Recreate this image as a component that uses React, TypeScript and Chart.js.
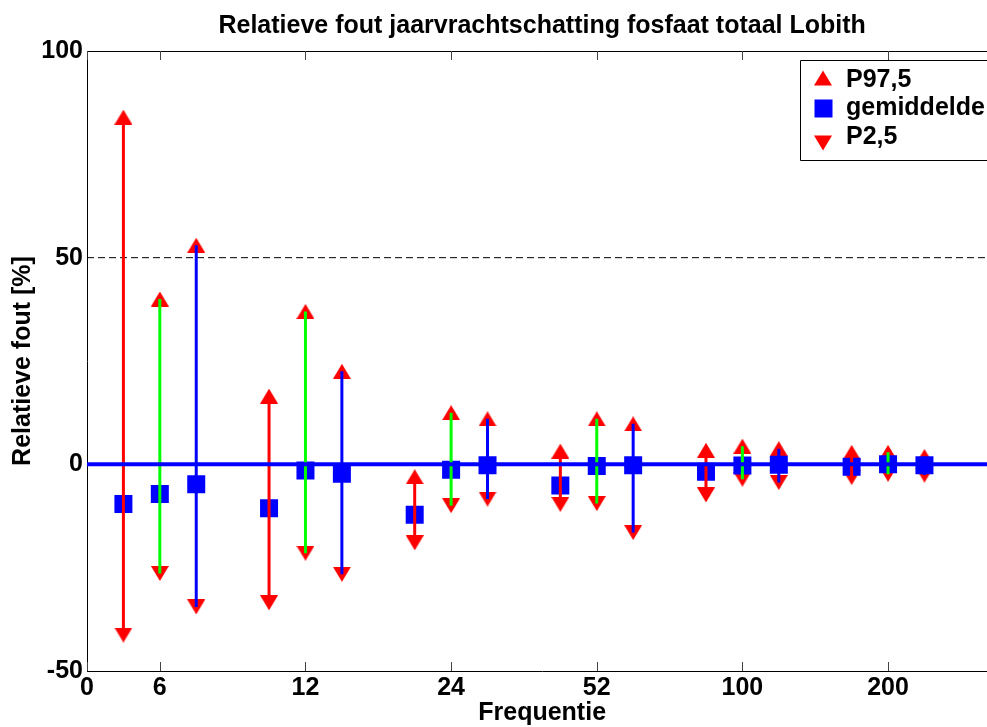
import React, { useEffect, useRef } from 'react';
import { Chart, registerables } from 'chart.js';

Chart.register(...registerables);

const FONT = '"Liberation Sans", Arial, Helvetica, sans-serif';

const chartTitle = 'Relatieve fout jaarvrachtschatting fosfaat totaal Lobith';
const xAxisTitle = 'Frequentie';
const yAxisTitle = 'Relatieve fout [%]';

const frequencies = ['6', '12', '24', '52', '100', '200'];
const groupCenters = [1, 3, 5, 7, 9, 11];
const xTickPositions = [0, 1, 3, 5, 7, 9, 11];
const xTickLabels = ['0', '6', '12', '24', '52', '100', '200'];
const yTickStep = 50;
const xMin = 0;
const xMax = 12.5;
const yMin = -50;
const yMax = 100;
const referenceLevel = 50;
const zeroLevel = 0;

// series 1 (red bars)
const redP975 = [84, 16.5, -3, 3.2, 3.4, 2.9];
const redMean = [-9.6, -10.6, -12.2, -5.1, -1.8, -0.6];
const redP25 = [-41.3, -33.5, -19, -9.7, -7.4, -3.2];
// series 2 (green bars)
const greenP975 = [40, 37, 12.5, 11, 4.4, 2.9];
const greenMean = [-7.2, -1.5, -1.3, -0.4, -0.3, 0];
const greenP25 = [-26.4, -21.5, -10, -9.5, -3.6, -2.4];
// series 3 (blue bars)
const blueP975 = [53, 22.5, 11, 9.8, 3.8, 1.9];
const blueMean = [-4.8, -2.3, -0.2, -0.2, -0.1, -0.2];
const blueP25 = [-34.5, -26.6, -8.4, -16.5, -4.4, -2.6];

const seriesOffsets = [-0.5, 0, 0.5];
const seriesColors = ['#FF0000', '#00FF00', '#0000FF'];
const legendLabels = ['P97,5', 'gemiddelde', 'P2,5'];

const RED = '#FF0000';
const BLUE = '#0000FF';

type Series = { p975: number[]; mean: number[]; p25: number[] };
const series: Series[] = [
  { p975: redP975, mean: redMean, p25: redP25 },
  { p975: greenP975, mean: greenMean, p25: greenP25 },
  { p975: blueP975, mean: blueMean, p25: blueP25 },
];

const xOf = (si: number, gi: number) => groupCenters[gi] + seriesOffsets[si];

const markerPoints = (key: keyof Series) =>
  series.flatMap((s, si) => s[key].map((v, gi) => ({ x: xOf(si, gi), y: v })));

const barPoints = (si: number) =>
  series[si].p25.flatMap((lo, gi) => {
    const x = xOf(si, gi);
    return [
      { x, y: lo },
      { x, y: series[si].p975[gi] },
      { x, y: null as number | null },
    ];
  });

function triangleImage(up: boolean, w: number, h: number, color: string) {
  const c = document.createElement('canvas');
  c.width = w;
  c.height = h;
  const g = c.getContext('2d')!;
  g.fillStyle = color;
  g.beginPath();
  if (up) {
    g.moveTo(w / 2, 0);
    g.lineTo(w, h);
    g.lineTo(0, h);
  } else {
    g.moveTo(0, 0);
    g.lineTo(w, 0);
    g.lineTo(w / 2, h);
  }
  g.closePath();
  g.fill();
  return c;
}

const framePlugin = {
  id: 'matlabFrame',
  beforeDatasetsDraw(chart: any) {
    const { ctx, chartArea } = chart;
    const xs = chart.scales.x;
    ctx.save();
    ctx.strokeStyle = '#000';
    ctx.lineWidth = 1;
    ctx.beginPath();
    ctx.moveTo(chartArea.left, Math.round(chartArea.top) + 0.5);
    ctx.lineTo(chartArea.right, Math.round(chartArea.top) + 0.5);
    ctx.stroke();
    ctx.strokeStyle = '#444';
    ctx.beginPath();
    xTickPositions.forEach((v) => {
      const px = Math.round(xs.getPixelForValue(v)) + 0.5;
      ctx.moveTo(px, chartArea.bottom);
      ctx.lineTo(px, chartArea.bottom - 9);
      ctx.moveTo(px, chartArea.top);
      ctx.lineTo(px, chartArea.top + 9);
    });
    ctx.stroke();
    ctx.restore();
  },
  afterDraw(chart: any) {
    const { ctx, chartArea } = chart;
    const left = Math.round(chartArea.right - 197);
    const top = Math.round(chartArea.top + 9);
    const right = chart.width;
    const h = 100;
    ctx.save();
    ctx.fillStyle = '#fff';
    ctx.fillRect(left, top, right - left, h);
    ctx.strokeStyle = '#000';
    ctx.lineWidth = 1;
    ctx.beginPath();
    ctx.moveTo(right, top + 0.5);
    ctx.lineTo(left + 0.5, top + 0.5);
    ctx.lineTo(left + 0.5, top + h + 0.5);
    ctx.lineTo(right, top + h + 0.5);
    ctx.stroke();
    const mx = left + 23;
    const textX = left + 46;
    const textYs = [top + 20, top + 48.5, top + 77];
    const markerYs = [top + 18, top + 48.5, top + 83];
    ctx.fillStyle = RED;
    ctx.beginPath();
    ctx.moveTo(mx, markerYs[0] - 7.5);
    ctx.lineTo(mx + 9, markerYs[0] + 7.5);
    ctx.lineTo(mx - 9, markerYs[0] + 7.5);
    ctx.closePath();
    ctx.fill();
    ctx.fillStyle = BLUE;
    ctx.fillRect(mx - 8.5, markerYs[1] - 9, 18, 18);
    ctx.fillStyle = RED;
    ctx.beginPath();
    ctx.moveTo(mx - 9, markerYs[2] - 7.5);
    ctx.lineTo(mx + 9, markerYs[2] - 7.5);
    ctx.lineTo(mx, markerYs[2] + 7.5);
    ctx.closePath();
    ctx.fill();
    ctx.fillStyle = '#000';
    ctx.font = `bold 25px ${FONT}`;
    ctx.textBaseline = 'middle';
    ctx.textAlign = 'left';
    legendLabels.forEach((t, i) => ctx.fillText(t, textX, textYs[i]));
    ctx.restore();
  },
};

export default function App() {
  const ref = useRef<HTMLCanvasElement | null>(null);

  useEffect(() => {
    if (!ref.current) return;
    const upTri = triangleImage(true, 18, 15, RED);
    const downTri = triangleImage(false, 18, 15, RED);
    const font = (lineHeight = 1.2) => ({ family: FONT, size: 25, weight: 'bold' as const, lineHeight });

    const chart = new Chart(ref.current, {
      type: 'line',
      data: {
        datasets: [
          {
            label: 'zero',
            data: [{ x: xMin, y: zeroLevel }, { x: xMax, y: zeroLevel }],
            borderColor: BLUE,
            borderWidth: 4,
            pointRadius: 0,
            order: 0,
          },
          ...seriesColors.map((c, si) => ({
            label: 'bar ' + si,
            data: barPoints(si),
            borderColor: c,
            borderWidth: 3,
            borderCapStyle: 'butt' as const,
            pointRadius: 0,
            spanGaps: false,
            order: 1,
          })),
          {
            label: legendLabels[1],
            data: markerPoints('mean'),
            showLine: false,
            pointStyle: 'rect' as const,
            pointRadius: 12.73,
            pointBorderWidth: 0,
            pointBackgroundColor: BLUE,
            borderColor: BLUE,
            order: 2,
          },
          {
            label: legendLabels[0],
            data: markerPoints('p975'),
            showLine: false,
            pointStyle: upTri as any,
            pointRadius: 10,
            pointBorderWidth: 0,
            order: 3,
          },
          {
            label: legendLabels[2],
            data: markerPoints('p25'),
            showLine: false,
            pointStyle: downTri as any,
            pointRadius: 10,
            pointBorderWidth: 0,
            order: 3,
          },
          {
            label: 'ref',
            data: [{ x: xMin, y: referenceLevel }, { x: xMax, y: referenceLevel }],
            borderColor: '#000',
            borderWidth: 1,
            borderDash: [7, 4],
            pointRadius: 0,
            order: 5,
          },
        ] as any,
      },
      options: {
        animation: false,
        responsive: false,
        maintainAspectRatio: false,
        events: [],
        layout: { padding: { left: 0, right: 10, top: 0, bottom: 0 } },
        plugins: {
          legend: { display: false },
          tooltip: { enabled: false },
          title: {
            display: true,
            text: chartTitle,
            fullSize: false,
            color: '#000',
            font: font(1.2),
            padding: { top: 11, bottom: 10 },
          },
        },
        scales: {
          x: {
            type: 'linear',
            min: xMin,
            max: xMax,
            position: 'bottom',
            grid: { display: false, drawTicks: false },
            border: { display: true, color: '#000', width: 1 },
            afterBuildTicks: (scale: any) => {
              scale.ticks = xTickPositions.map((v) => ({ value: v }));
            },
            afterFit: (scale: any) => {
              scale.height = 56;
            },
            ticks: {
              autoSkip: false,
              maxRotation: 0,
              minRotation: 0,
              padding: 2,
              color: '#000',
              font: font(1.2),
              callback: (_v: any, i: number) => xTickLabels[i],
            },
            title: {
              display: true,
              text: xAxisTitle,
              color: '#000',
              font: font(1),
              padding: { top: 0, bottom: 1 },
            },
          },
          y: {
            type: 'linear',
            min: yMin,
            max: yMax,
            grid: { display: false, drawTicks: false },
            border: { display: true, color: '#000', width: 1 },
            afterFit: (scale: any) => {
              scale.width = 87;
            },
            ticks: {
              stepSize: yTickStep,
              padding: 4,
              color: '#000',
              font: font(1.2),
              callback: (v: any) => String(v),
            },
            title: {
              display: true,
              text: yAxisTitle,
              color: '#000',
              font: font(1.2),
              padding: { top: 8, bottom: 0 },
            },
          },
        },
      } as any,
      plugins: [framePlugin as any],
    });
    return () => chart.destroy();
  }, []);

  return (
    <div
      style={{
        position: 'fixed',
        left: 0,
        top: 0,
        width: 987,
        height: 727,
        overflow: 'hidden',
        background: '#fff',
      }}
      data-frequencies={frequencies.join(',')}
    >
      <canvas ref={ref} width={1010} height={727} style={{ display: 'block', width: 1010, height: 727 }} />
    </div>
  );
}
